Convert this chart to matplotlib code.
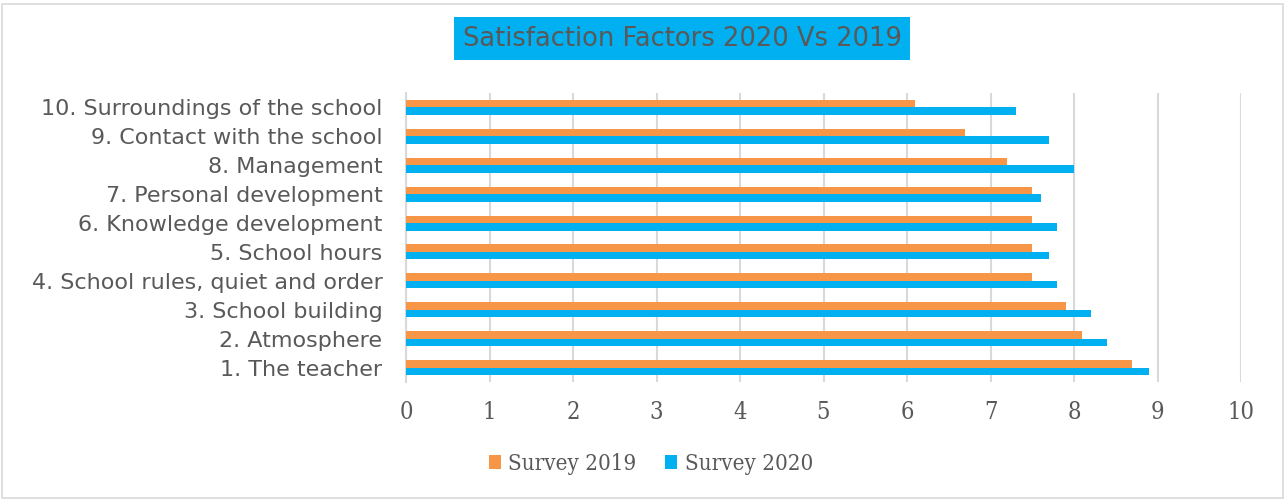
import matplotlib.pyplot as plt
from matplotlib.patches import Rectangle

categories = [
    "1. The teacher",
    "2. Atmosphere",
    "3. School building",
    "4. School rules, quiet and order",
    "5. School hours",
    "6. Knowledge development",
    "7. Personal development",
    "8. Management",
    "9. Contact with the school",
    "10. Surroundings of the school",
]
survey_2019 = [8.7, 8.1, 7.9, 7.5, 7.5, 7.5, 7.5, 7.2, 6.7, 6.1]
survey_2020 = [8.9, 8.4, 8.2, 7.8, 7.7, 7.8, 7.6, 8.0, 7.7, 7.3]
xticks = list(range(0, 11))

orange = "#F79646"
blue = "#00B0F0"
grey = "#595959"
W, H = 1287, 500

fig = plt.figure(figsize=(12.87, 5.0), dpi=100)
ax = fig.add_axes([406 / W, 118 / H, 835 / W, 289 / H])

pos = list(range(len(categories)))
h = 0.26
ax.barh([p + h / 2 for p in pos], survey_2019, height=h, color=orange, label="Survey 2019", zorder=3)
ax.barh([p - h / 2 for p in pos], survey_2020, height=h, color=blue, label="Survey 2020", zorder=3)

ax.set_xlim(0, 10)
ax.set_ylim(-0.5, len(categories) - 0.5)
ax.set_xticks(xticks)
ax.set_yticks(pos)
ax.set_yticklabels(categories, fontfamily="DejaVu Sans", fontsize=16, color=grey)
for lab in ax.get_xticklabels():
    lab.set_fontfamily("DejaVu Serif")
    lab.set_fontstretch("condensed")
    lab.set_fontsize(17)
    lab.set_color(grey)
ax.tick_params(axis="x", length=0, pad=14)
ax.tick_params(axis="y", length=0, pad=17)
ax.grid(axis="x", color="#D9D9D9", linewidth=1.5, zorder=0)
for s in ["top", "right", "bottom"]:
    ax.spines[s].set_visible(False)
ax.spines["left"].set_color("#D9D9D9")
ax.spines["left"].set_linewidth(1.5)

# title box
fig.patches.append(Rectangle((454 / W, 1 - 60 / H), 456 / W, 43 / H, transform=fig.transFigure,
                             facecolor=blue, edgecolor="none"))
fig.text(682 / W, 1 - 39 / H, "Satisfaction Factors 2020 Vs 2019",
         ha="center", va="center", fontsize=18.5, color=grey, fontfamily="DejaVu Sans")

leg = fig.legend(loc="center", bbox_to_anchor=(651 / W, 1 - 464 / H), ncol=2, frameon=False,
                 handlelength=0.54, handleheight=0.6, handletextpad=0.35, columnspacing=1.3,
                 prop={"family": "DejaVu Serif", "stretch": "condensed", "size": 16})
for t in leg.get_texts():
    t.set_color(grey)

fig.patches.append(Rectangle((2 / W, 2 / H), 1281 / W, 494 / H, transform=fig.transFigure,
                             fill=False, edgecolor="#D9D9D9", linewidth=1.2))

fig.savefig("out.png", dpi=100)
